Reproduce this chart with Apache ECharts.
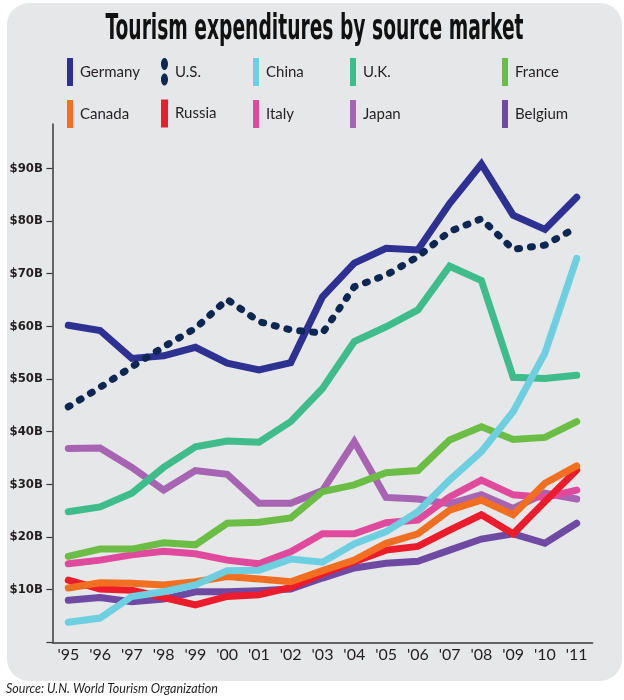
<!DOCTYPE html>
<html><head><meta charset="utf-8">
<script src="https://cdn.jsdelivr.net/npm/echarts@6/dist/echarts.min.js"></script>
<style>html,body{margin:0;padding:0;background:#fff}#c{width:624px;height:700px}</style>
</head><body><div id="c"></div>
<script>
const TITLE = 'Tourism expenditures by source market';
const SOURCE = 'Source: U.N. World Tourism Organization';
const years = ["'95","'96","'97","'98","'99","'00","'01","'02","'03","'04","'05","'06","'07","'08","'09","'10","'11"];
const yTicks = [10, 20, 30, 40, 50, 60, 70, 80, 90];

const germany = [60.2, 59.2, 53.9, 54.4, 56.0, 53.0, 51.7, 53.1, 65.6, 72.0, 74.8, 74.5, 83.3, 90.8, 81.1, 78.4, 84.5];
const us      = [44.7, 48.4, 52.3, 56.1, 59.6, 65.1, 60.9, 59.3, 58.7, 67.5, 69.7, 73.2, 78.0, 80.4, 74.6, 75.4, 78.8];
const china   = [3.8, 4.6, 8.7, 9.6, 10.9, 13.6, 13.7, 15.8, 15.2, 18.7, 21.0, 24.8, 30.8, 36.2, 43.8, 54.9, 72.9];
const uk      = [24.8, 25.7, 28.3, 33.2, 37.1, 38.2, 38.0, 41.9, 48.2, 57.1, 59.9, 63.1, 71.4, 68.7, 50.3, 50.1, 50.7];
const france  = [16.3, 17.7, 17.7, 18.9, 18.5, 22.6, 22.8, 23.6, 28.6, 29.9, 32.2, 32.6, 38.4, 40.9, 38.5, 38.9, 41.9];
const canada  = [10.3, 11.3, 11.2, 10.9, 11.5, 12.5, 12.0, 11.5, 13.6, 15.6, 18.8, 20.6, 25.1, 27.0, 24.2, 30.2, 33.5];
const russia  = [11.8, 10.1, 9.9, 8.5, 7.1, 8.7, 9.0, 10.4, 13.0, 15.3, 17.5, 18.2, 21.3, 24.2, 20.6, 26.7, 32.7];
const italy   = [14.9, 15.6, 16.6, 17.3, 16.8, 15.6, 14.9, 17.2, 20.6, 20.6, 22.7, 23.2, 27.6, 30.8, 28.0, 27.5, 28.9];
const japan   = [36.8, 36.9, 33.2, 28.9, 32.6, 31.9, 26.4, 26.4, 28.8, 38.1, 27.5, 27.2, 26.3, 28.0, 25.4, 28.3, 27.2];
const belgium = [8.0, 8.5, 7.7, 8.2, 9.6, 9.6, 9.8, 10.1, 12.2, 14.1, 15.0, 15.4, 17.5, 19.6, 20.6, 18.8, 22.6];

const colors = {
  'Germany': '#2e3192', 'U.S.': '#0d2652', 'China': '#6dcfe0', 'U.K.': '#3fbc8c', 'France': '#6cbd45',
  'Canada': '#f26f21', 'Russia': '#ec1c2c', 'Italy': '#e04a9c', 'Japan': '#a764b2', 'Belgium': '#6f4aa3'
};
const legendCols = [['Germany','Canada'],['U.S.','Russia'],['China','Italy'],['U.K.','Japan'],['France','Belgium']];
const legendX = [67, 161, 253, 350, 502];
const usIcon = 'path://M0,6C0,2.686 1.567,0 3.5,0C5.433,0 7,2.686 7,6C7,9.314 5.433,12 3.5,12C1.567,12 0,9.314 0,6Z' +
               'M0,21.5C0,18.186 1.567,15.5 3.5,15.5C5.433,15.5 7,18.186 7,21.5C7,24.814 5.433,27.5 3.5,27.5C1.567,27.5 0,24.814 0,21.5Z';

function mk(name, data, dashed) {
  const c = colors[name];
  return {
    name, type: 'line', data, symbol: 'none', clip: false, silent: true,
    lineStyle: { color: c, width: 7, cap: 'round', join: 'miter', type: dashed ? [2, 11] : 'solid' },
    itemStyle: { color: c },
    emphasis: { disabled: true }
  };
}

const titleFont = 'bold 35px "DejaVu Sans Condensed", "Liberation Sans Narrow", sans-serif';
const cv = document.createElement('canvas').getContext('2d');
cv.font = titleFont;
const tw = cv.measureText(TITLE).width;
const titleScale = 418 / tw;

const chart = echarts.init(document.getElementById('c'), null, { renderer: 'canvas' });
chart.setOption({
  animation: false,
  backgroundColor: '#ffffff',
  graphic: [
    { type: 'rect', z: -10, silent: true, shape: { x: 7, y: 3, width: 615, height: 678, r: 22 }, style: { fill: '#e6e7e8' } },
    { type: 'text', x: 314.5, y: 30, scaleX: titleScale, silent: true,
      style: { text: TITLE, font: titleFont, align: 'center', verticalAlign: 'middle', fill: '#111111' } },
    { type: 'text', x: 6, y: 689, silent: true,
      style: { text: SOURCE, font: 'italic 12.5px Lato, "Open Sans", sans-serif', align: 'left', verticalAlign: 'middle', fill: '#231f20' } }
  ],
  legend: legendCols.map((col, i) => ({
    orient: 'vertical', left: legendX[i], top: 58, padding: 0,
    itemWidth: i === 1 ? 7 : 6, itemHeight: 28, itemGap: 14, selectedMode: false,
    data: col.map(n => ({ name: n, icon: n === 'U.S.' ? usIcon : 'rect' })),
    itemStyle: { borderWidth: 0 },
    textStyle: { fontFamily: 'Lato, "Open Sans", sans-serif', fontSize: 15, color: '#231f20', padding: [0, 0, 0, 2] }
  })),
  grid: { left: 52.4, right: 31.4, top: 124, bottom: 57.7, containLabel: false, outerBoundsMode: 'none' },
  xAxis: {
    type: 'category', data: years, boundaryGap: true,
    axisLine: { lineStyle: { color: '#3a3a3a', width: 1.5 } },
    axisTick: { show: false },
    axisLabel: { margin: 5, fontFamily: 'Lato, "Open Sans", sans-serif', fontSize: 16, color: '#231f20', interval: 0 }
  },
  yAxis: {
    type: 'value', min: 0, max: 98.4,
    splitLine: { show: false },
    axisLine: { show: true, lineStyle: { color: '#3a3a3a', width: 1.5 } },
    axisTick: { show: true, length: 6, customValues: [0].concat(yTicks), lineStyle: { color: '#3a3a3a', width: 1.2 } },
    axisLabel: { customValues: yTicks, margin: 9.5, formatter: v => '$' + v + 'B',
      fontFamily: '"Liberation Sans Narrow", "DejaVu Sans Condensed", sans-serif', fontWeight: 'bold', fontSize: 13, color: '#231f20' }
  },
  series: [
    mk('Belgium', belgium), mk('Japan', japan), mk('Italy', italy), mk('Russia', russia),
    mk('Canada', canada), mk('France', france), mk('U.K.', uk), mk('China', china),
    mk('Germany', germany), mk('U.S.', us, true)
  ]
});
</script>
</body></html>
